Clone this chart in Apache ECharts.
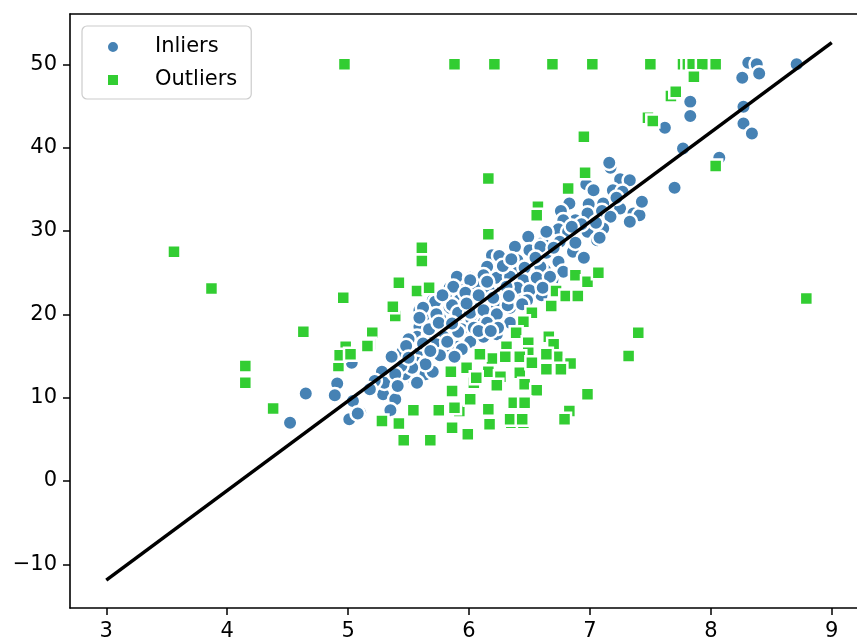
<!DOCTYPE html>
<html>
<head>
<meta charset="utf-8">
<script src="https://cdn.jsdelivr.net/npm/echarts@6/dist/echarts.min.js"></script>
<style>
  html, body { margin: 0; padding: 0; background: #fff; }
  #chart { width: 857px; height: 642px; }
</style>
</head>
<body>
<div id="chart"></div>
<script>
// average rooms (x) vs median value (y)
var inliers = [
  [8.31, 50.2], [8.38, 50.0], [8.71, 50.0], [8.26, 48.4], [8.40, 48.9], [7.83, 45.5], [7.83, 43.8],
  [7.62, 42.4], [8.27, 44.9], [8.27, 42.9], [8.34, 41.7], [7.77, 39.9], [8.07, 38.8], [7.70, 35.2],
  [7.42, 33.6], [7.17, 37.6], [7.16, 38.2], [7.25, 36.2], [7.33, 36.1], [7.19, 34.9], [7.27, 34.7],
  [7.25, 32.7], [7.36, 32.1], [7.41, 31.9], [7.11, 33.3], [6.97, 35.6], [7.03, 34.9], [7.22, 34.0],
  [7.43, 33.5], [6.83, 33.3], [6.99, 33.2], [6.76, 32.4], [7.10, 32.4], [6.88, 31.3], [6.98, 32.1],
  [7.17, 31.7], [7.33, 31.1], [6.78, 31.3], [6.63, 30.1], [6.74, 30.2], [6.82, 29.9], [6.98, 29.9],
  [7.11, 30.3], [6.49, 29.3], [6.61, 28.6], [6.75, 28.7], [7.06, 28.9], [6.38, 28.1], [6.50, 27.7],
  [6.64, 27.4], [6.86, 27.5], [6.74, 26.3], [6.95, 26.8], [6.40, 26.5], [6.52, 25.9], [6.63, 25.3],
  [6.78, 25.1], [6.40, 25.0], [6.50, 24.4], [6.59, 24.5], [6.69, 24.1], [6.45, 23.3], [6.59, 23.3],
  [6.69, 22.9], [6.40, 22.6], [6.50, 22.3], [6.60, 22.3], [7.08, 29.2], [6.64, 29.9], [6.59, 28.1],
  [6.19, 27.1], [6.25, 27.0], [6.24, 25.3], [6.15, 25.7], [6.46, 25.6], [6.59, 25.7],
  [5.90, 24.5], [6.01, 24.4], [6.12, 24.7], [6.23, 24.4], [6.34, 24.5], [6.45, 24.1], [6.56, 24.4],
  [6.67, 24.5], [5.84, 23.2], [5.95, 22.9], [6.07, 23.2], [6.17, 22.7], [6.28, 22.9], [6.40, 23.2],
  [6.50, 22.9], [6.61, 23.2], [5.70, 21.7], [5.81, 22.0], [5.92, 21.7], [6.04, 21.7], [6.15, 21.5],
  [6.26, 21.7], [6.36, 21.5], [6.48, 21.7], [5.59, 20.5], [5.73, 20.3], [5.84, 20.8], [5.95, 20.8],
  [6.09, 20.8], [6.23, 20.9], [6.34, 20.8], [5.65, 19.7], [5.76, 19.6], [5.90, 19.7], [6.02, 19.4],
  [6.12, 19.0], [6.23, 19.4], [6.34, 19.0], [5.59, 18.5], [5.70, 18.5], [5.81, 18.4], [5.94, 18.2],
  [5.57, 17.3], [5.67, 17.6], [5.79, 17.3], [5.90, 17.3], [6.04, 17.0], [6.12, 17.3], [6.23, 17.6],
  [5.73, 16.4], [5.82, 16.0], [5.91, 16.1], [5.43, 14.6], [5.45, 15.5], [5.59, 15.4], [5.76, 15.1],
  [5.57, 14.2], [5.65, 14.2], [5.28, 13.1], [5.53, 12.4], [5.64, 12.8], [5.70, 13.1], [5.47, 12.8],
  [5.29, 10.4], [5.39, 11.6], [5.30, 11.8], [5.57, 11.8], [5.39, 9.8], [5.10, 8.2], [5.34, 8.4],
  [5.72, 21.5], [5.86, 21.1], [5.62, 20.8], [5.73, 20.0], [5.59, 19.6], [5.91, 20.2], [6.01, 20.2],
  [6.12, 20.5], [6.23, 20.0], [6.32, 21.1], [5.67, 18.2], [5.91, 17.9], [6.04, 18.4], [6.15, 19.0],
  [6.24, 18.4], [6.01, 16.7], [5.82, 16.7], [5.94, 15.8], [5.64, 14.0], [5.53, 13.6], [5.44, 13.8],
  [5.39, 12.8], [5.41, 11.4], [5.35, 8.5], [5.87, 23.3], [5.78, 22.3], [6.06, 23.3], [6.01, 24.1],
  [6.15, 23.9], [6.31, 23.3], [5.03, 14.2], [4.91, 11.7], [4.65, 10.5], [4.89, 10.3], [5.04, 9.6],
  [5.01, 7.4], [4.52, 7.0], [5.08, 8.1],
  [5.50, 17.0], [5.62, 16.5], [5.48, 16.2], [5.36, 14.9], [5.50, 14.8], [5.22, 12.0], [5.18, 11.0],
  [5.97, 22.6], [6.08, 22.3], [6.20, 22.0], [6.33, 22.2], [6.44, 21.2], [6.28, 25.8], [6.35, 26.6],
  [6.55, 26.8], [6.70, 28.0], [6.88, 28.6], [6.93, 30.8], [7.05, 31.0], [6.85, 30.5], [5.98, 21.3],
  [5.75, 19.0], [5.86, 18.9], [6.08, 18.0], [6.18, 18.0], [5.68, 15.6], [5.88, 14.9]
];

var outliers = [
  [4.97, 50.0], [5.88, 50.0], [6.21, 50.0], [6.69, 50.0], [7.02, 50.0], [7.50, 50.0], [7.77, 50.0],
  [7.81, 50.0], [7.85, 50.0], [7.93, 50.0], [8.04, 50.0], [7.86, 48.5], [7.67, 46.2], [7.71, 46.7],
  [7.48, 43.6], [7.52, 43.2], [6.95, 41.3], [6.96, 37.0], [6.16, 36.3], [6.82, 35.1], [6.57, 32.9],
  [6.56, 31.9], [8.04, 37.8], [3.56, 27.5], [3.87, 23.1], [4.96, 22.0], [4.63, 17.9], [4.98, 16.1],
  [4.92, 13.8], [4.93, 15.1], [5.02, 15.2], [4.15, 13.8], [4.15, 11.8], [4.38, 8.7], [8.79, 21.9],
  [7.40, 17.8], [7.32, 15.0], [7.08, 25.1], [6.88, 24.7], [6.98, 23.9], [7.07, 25.0], [6.72, 22.8],
  [6.80, 22.2], [6.90, 22.2], [6.68, 21.0], [6.52, 20.2], [6.45, 19.1], [6.39, 17.8], [6.49, 16.6],
  [6.66, 17.3], [6.70, 16.4], [6.73, 14.9], [6.84, 14.1], [6.53, 14.1], [6.49, 15.4], [6.64, 13.4],
  [6.76, 13.4], [6.42, 13.0], [6.46, 11.6], [6.56, 10.9], [6.98, 10.4], [6.37, 9.4], [6.46, 9.4],
  [6.83, 8.4], [6.79, 7.4], [6.35, 7.0], [6.45, 7.0], [6.64, 15.2], [6.37, 15.2], [5.39, 19.8],
  [5.37, 20.9], [5.20, 17.8], [5.18, 16.4], [5.86, 10.8], [5.85, 13.1], [5.98, 13.6], [6.04, 11.8],
  [6.19, 14.7], [6.16, 13.1], [6.26, 12.5], [6.31, 14.9], [5.54, 8.5], [5.75, 8.5], [5.92, 8.4],
  [6.16, 8.6], [5.28, 7.2], [5.42, 6.9], [5.86, 6.4], [5.99, 5.6], [5.46, 4.9], [5.68, 4.9],
  [6.09, 15.2], [6.06, 12.4], [6.16, 29.6], [5.61, 28.0], [5.61, 26.4], [5.42, 23.8], [5.57, 22.8],
  [5.67, 23.2], [5.16, 16.2], [6.31, 16.1], [6.30, 14.9], [6.42, 14.9], [6.52, 14.2], [6.23, 11.5],
  [6.01, 9.8], [6.34, 7.4], [6.44, 7.4], [5.88, 8.8], [6.17, 6.8]
];

// RANSAC fit, end points
var lineX = [3, 9];
var lineY = [-11.9, 52.6];

var xTicks = [3, 4, 5, 6, 7, 8, 9];
var yTicks = [-10, 0, 10, 20, 30, 40, 50];

var chart = echarts.init(document.getElementById("chart"));
var font = "DejaVu Sans";
var spine = { show: true, onZero: false, lineStyle: { color: "#000", width: 1.6 } };

function minus(v) { return String(v).replace("-", "\u2212"); }

var option = {
  animation: false,
  grid: { left: 70, right: 0, top: 14, bottom: 34, show: false },
  legend: {
    left: 82, top: 26,
    orient: "vertical",
    padding: [10, 14, 8, 24],
    itemGap: 11,
    itemWidth: 12, itemHeight: 12,
    backgroundColor: "rgba(255,255,255,0.8)",
    borderColor: "#cccccc", borderWidth: 1.2, borderRadius: 5,
    textStyle: { fontFamily: font, fontSize: 21, color: "#000", lineHeight: 22, padding: [0, 0, 0, 31] },
    data: ["Inliers", "Outliers"]
  },
  xAxis: [
    {
      type: "value", min: 2.7, max: 9.209, position: "bottom",
      splitLine: { show: false },
      axisLine: spine,
      axisTick: { show: true, length: 7, lineStyle: { color: "#000", width: 1.5 }, customValues: xTicks },
      axisLabel: { fontFamily: font, fontSize: 21, color: "#000", margin: 13, customValues: xTicks, formatter: minus }
    },
    {
      // top spine only
      type: "value", min: 2.7, max: 9.209, position: "top",
      splitLine: { show: false },
      axisLine: spine,
      axisTick: { show: false },
      axisLabel: { show: false }
    }
  ],
  yAxis: {
    type: "value", min: -15.24, max: 56.04,
    splitLine: { show: false },
    axisLine: spine,
    axisTick: { show: true, length: 7, lineStyle: { color: "#000", width: 1.5 }, customValues: yTicks },
    axisLabel: { fontFamily: font, fontSize: 21, color: "#000", margin: 13, customValues: yTicks, formatter: minus }
  },
  series: [
    {
      name: "Inliers", type: "scatter", symbol: "circle", symbolSize: 14.5,
      itemStyle: { color: "#4682B4", borderColor: "#fff", borderWidth: 2.5, opacity: 1 },
      data: inliers
    },
    {
      name: "Outliers", type: "scatter", symbol: "rect", symbolSize: 13,
      itemStyle: { color: "#32CD32", borderColor: "#fff", borderWidth: 2.5, opacity: 1 },
      data: outliers
    },
    {
      name: "fit", type: "line", symbol: "none",
      lineStyle: { color: "#000", width: 3.5 },
      data: lineX.map(function (x, i) { return [x, lineY[i]]; }),
      z: 5
    }
  ]
};

chart.setOption(option);
window.addEventListener("resize", function () { chart.resize(); });
</script>
</body>
</html>
